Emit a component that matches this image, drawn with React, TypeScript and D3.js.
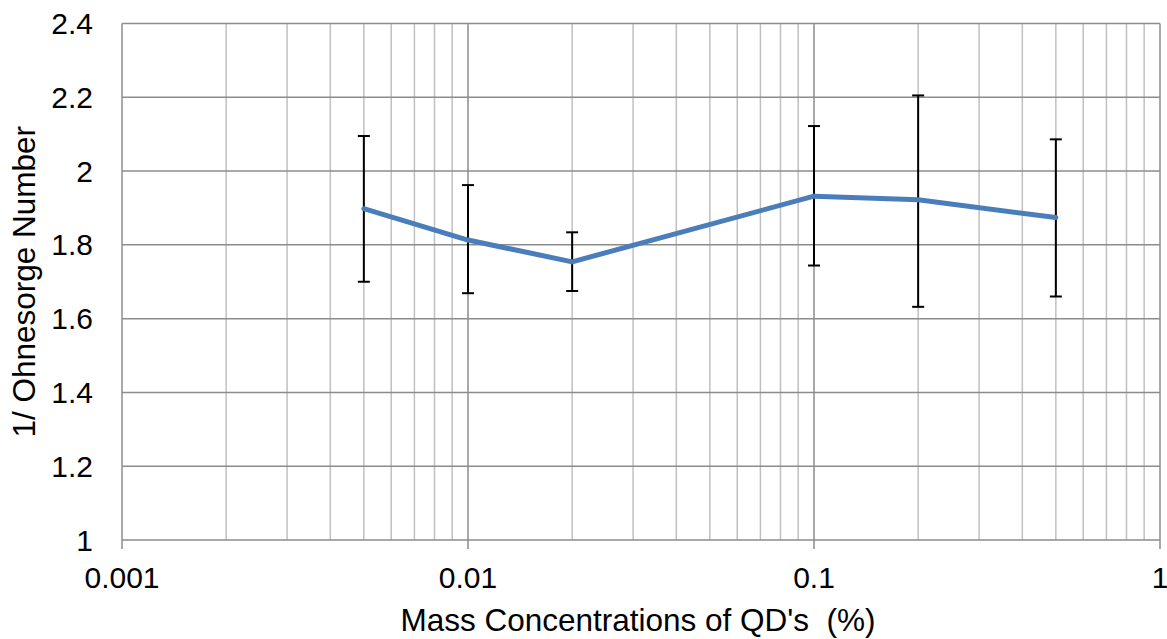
import React, { useEffect, useRef } from "react";
import * as d3 from "d3";

const concentrations = [0.005, 0.01, 0.02, 0.1, 0.2, 0.5];
const invOhnesorge = [1.898, 1.813, 1.754, 1.932, 1.922, 1.874];
const errTop = [2.095, 1.962, 1.834, 2.122, 2.205, 2.086];
const errBottom = [1.7, 1.669, 1.675, 1.744, 1.632, 1.66];
const yTicks = [1, 1.2, 1.4, 1.6, 1.8, 2, 2.2, 2.4];
const xMajor = [0.001, 0.01, 0.1, 1];
const xLabels = ["0.001", "0.01", "0.1", "1"];

const W = 1167;
const H = 639;
const margin = { left: 122, right: 7, top: 23.5, bottom: 99 };

export default function App() {
  const ref = useRef<SVGSVGElement>(null);

  useEffect(() => {
    const svg = d3.select(ref.current);
    svg.selectAll("*").remove();

    const x = d3.scaleLog().domain([0.001, 1]).range([margin.left, W - margin.right]);
    const y = d3.scaleLinear().domain([1, 2.4]).range([H - margin.bottom, margin.top]);
    const font = "'Liberation Sans', Arial, sans-serif";

    // minor vertical grid
    const minor: number[] = [];
    [0.001, 0.01, 0.1].forEach(d => {
      for (let k = 2; k <= 9; k++) minor.push(d * k);
    });
    svg.append("g").selectAll("line").data(minor).join("line")
      .attr("x1", d => x(d)).attr("x2", d => x(d))
      .attr("y1", y(1)).attr("y2", y(2.4))
      .attr("stroke", "#c0c0c0").attr("stroke-width", 1.5);

    // horizontal grid
    svg.append("g").selectAll("line").data(yTicks).join("line")
      .attr("x1", x(0.001)).attr("x2", x(1))
      .attr("y1", d => y(d)).attr("y2", d => y(d))
      .attr("stroke", "#8c8c8c").attr("stroke-width", 1.5);

    // major vertical grid + ticks
    svg.append("g").selectAll("line").data(xMajor).join("line")
      .attr("x1", d => x(d)).attr("x2", d => x(d))
      .attr("y1", y(2.4)).attr("y2", y(1) + 9)
      .attr("stroke", "#8c8c8c").attr("stroke-width", 1.5);

    // y labels
    svg.append("g").selectAll("text").data(yTicks).join("text")
      .attr("x", 93).attr("y", d => y(d)).attr("dy", "0.35em")
      .attr("text-anchor", "end").attr("font-family", font).attr("font-size", 30)
      .attr("fill", "#000").text(d => d3.format("")(+d.toFixed(1)));

    // x labels
    svg.append("g").selectAll("text").data(xMajor).join("text")
      .attr("x", d => x(d)).attr("y", 588)
      .attr("text-anchor", "middle").attr("font-family", font).attr("font-size", 30)
      .attr("fill", "#000").text((d, i) => xLabels[i]);

    // error bars
    const eb = svg.append("g").attr("stroke", "#000").attr("stroke-width", 2);
    concentrations.forEach((c, i) => {
      eb.append("line").attr("x1", x(c)).attr("x2", x(c)).attr("y1", y(errTop[i])).attr("y2", y(errBottom[i]));
      eb.append("line").attr("x1", x(c) - 6).attr("x2", x(c) + 6).attr("y1", y(errTop[i])).attr("y2", y(errTop[i]));
      eb.append("line").attr("x1", x(c) - 6).attr("x2", x(c) + 6).attr("y1", y(errBottom[i])).attr("y2", y(errBottom[i]));
    });

    // line
    const line = d3.line<number>().x((d, i) => x(concentrations[i])).y(d => y(d));
    svg.append("path").datum(invOhnesorge)
      .attr("d", line).attr("fill", "none")
      .attr("stroke", "#4a7ebb").attr("stroke-width", 5).attr("stroke-linejoin", "round").attr("stroke-linecap", "round");

    // axis titles
    svg.append("text")
      .attr("x", 638).attr("y", 631)
      .attr("text-anchor", "middle").attr("font-family", font).attr("font-size", 31.5)
      .attr("xml:space", "preserve")
      .text("Mass Concentrations of QD's  (%)");
    svg.append("text")
      .attr("transform", `translate(35,${(y(1) + y(2.4)) / 2}) rotate(-90)`)
      .attr("text-anchor", "middle").attr("font-family", font).attr("font-size", 31.5)
      .text("1/ Ohnesorge Number");
  }, []);

  return (
    <svg ref={ref} width={W} height={H}
      style={{ position: "absolute", left: 0, top: 0, background: "#fff" }} />
  );
}
